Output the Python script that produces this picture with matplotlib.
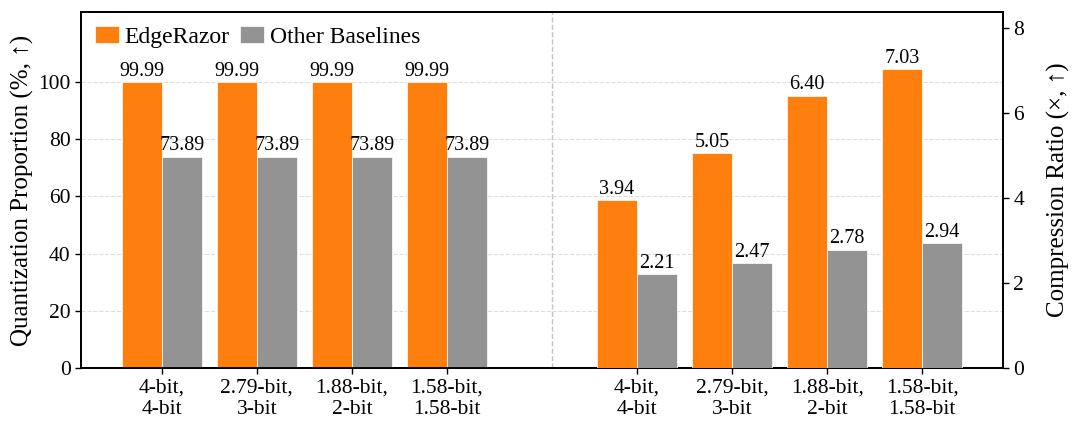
import numpy as np
import matplotlib.pyplot as plt

plt.rcParams['font.family'] = ['Liberation Serif', 'DejaVu Serif']

# data
configs = ['4-bit,\n4-bit', '2.79-bit,\n3-bit', '1.88-bit,\n2-bit', '1.58-bit,\n1.58-bit']
quant_edgerazor = [99.99, 99.99, 99.99, 99.99]
quant_baselines = [73.89, 73.89, 73.89, 73.89]
ratio_edgerazor = [3.94, 5.05, 6.40, 7.03]
ratio_baselines = [2.21, 2.47, 2.78, 2.94]

orange = '#ff7f0e'
grey = '#939393'
w = 0.42

fig = plt.figure(figsize=(10.8, 4.36), dpi=100)
ax = fig.add_axes([0.075, 0.156, 0.8537, 0.8165])
ax2 = ax.twinx()

x_left = np.arange(len(configs))
x_right = x_left + len(configs) + 1

b1 = ax.bar(x_left - w/2, quant_edgerazor, w, color=orange, edgecolor='white',
            linewidth=0.5, label='EdgeRazor', zorder=3)
b2 = ax.bar(x_left + w/2, quant_baselines, w, color=grey, edgecolor='white',
            linewidth=0.5, label='Other Baselines', zorder=3)
b3 = ax2.bar(x_right - w/2, ratio_edgerazor, w, color=orange, edgecolor='white',
             linewidth=0.5, zorder=3)
b4 = ax2.bar(x_right + w/2, ratio_baselines, w, color=grey, edgecolor='white',
             linewidth=0.5, zorder=3)

for bars in (b1, b2):
    ax.bar_label(bars, fmt='%.2f', fontsize=14.5, padding=1)
for bars in (b3, b4):
    ax2.bar_label(bars, fmt='%.2f', fontsize=14.5, padding=1)

ax.set_xlim(-0.85, 8.85)
ax.set_ylim(0, 124.5)
ax2.set_ylim(0, 8.37)
ax.set_yticks([0, 20, 40, 60, 80, 100])
ax2.set_yticks([0, 2, 4, 6, 8])
ax.set_xticks(np.concatenate([x_left, x_right]))
ax.set_xticklabels(configs + configs, linespacing=1.15)

ax.grid(axis='y', linestyle='--', color='#dddddd', linewidth=0.8, zorder=0)
ax.axvline(4.1, color='#c4c4c4', linestyle='--', linewidth=1.0, zorder=1)

ax.set_ylabel('Quantization Proportion (%, ↑)', fontsize=18, labelpad=3)
ax2.set_ylabel('Compression Ratio (×, ↑)', fontsize=18, labelpad=16)

for a in (ax, ax2):
    a.tick_params(labelsize=15.5, direction='out', length=4, width=1)
    for s in a.spines.values():
        s.set_linewidth(1.3)

ax.legend(loc='upper left', ncol=2, frameon=False, fontsize=17,
          handlelength=1.0, handleheight=0.7, handletextpad=0.25,
          columnspacing=0.45, borderaxespad=0.3, borderpad=0.3)

fig.savefig('out.png', dpi=100)
